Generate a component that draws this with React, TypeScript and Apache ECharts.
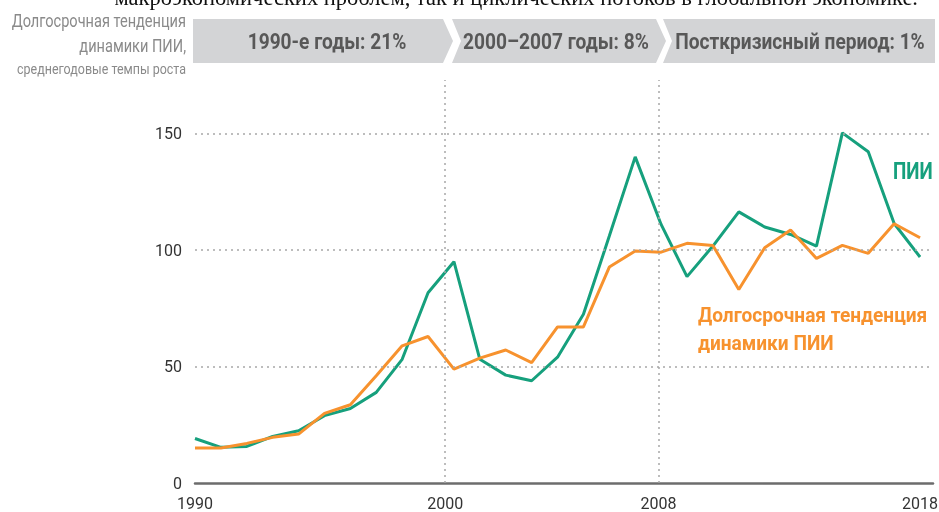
import React, { useEffect, useRef } from "react";
import * as echarts from "echarts";

const years = [
  1990, 1991, 1992, 1993, 1994, 1995, 1996, 1997, 1998, 1999,
  2000, 2001, 2002, 2003, 2004, 2005, 2006, 2007, 2008, 2009,
  2010, 2011, 2012, 2013, 2014, 2015, 2016, 2017, 2018,
];
const fdiValues = [
  19.1, 15.3, 15.7, 20.0, 22.4, 28.9, 32.0, 38.9, 53.1, 81.7,
  95.0, 53.1, 46.3, 43.9, 54.0, 72.4, 106.0, 140.0, 111.0, 88.6,
  101.7, 116.4, 109.9, 106.7, 101.7, 150.3, 142.2, 111.4, 97.0,
];
const trendValues = [
  15.0, 15.0, 17.0, 19.6, 21.0, 29.9, 33.6, 46.0, 58.9, 62.9,
  48.9, 53.6, 57.1, 51.7, 67.0, 67.0, 92.7, 99.6, 99.1, 102.9,
  102.0, 83.1, 101.0, 108.6, 96.4, 102.0, 98.6, 111.3, 105.3,
];
const periodLabels = ["1990-е годы: 21%", "2000–2007 годы: 8%", "Посткризисный период: 1%"];
const periodDividers = [1999.66, 2007.9];
const xTickPositions = [1990, 1999.66, 2007.9, 2018];
const xTickLabels = ["1990", "2000", "2008", "2018"];
const yTicks = [0, 50, 100, 150];
const gridLevels = [50, 100, 150];
const titleLines = ["Долгосрочная тенденция", "динамики ПИИ,", "среднегодовые темпы роста"];
const fdiName = "ПИИ";
const trendNameLines = ["Долгосрочная тенденция", "динамики ПИИ"];
const captionText = "макроэкономических проблем, так и циклических потоков в глобальной экономике.";

const GREEN = "#16a07d";
const ORANGE = "#f7922e";
const BAR = "#d3d4d6";
const FONT = "Roboto, 'Noto Sans', sans-serif";

export default function App() {
  const ref = useRef<HTMLDivElement>(null);
  useEffect(() => {
    if (!ref.current) return;
    const chart = echarts.init(ref.current, null, { renderer: "svg" });
    const headerText = (text: string, x: number) => ({
      type: "text",
      x,
      y: 42,
      scaleX: 0.87,
      z: 10,
      style: {
        text,
        fill: "#585858",
        font: `bold 22px ${FONT}`,
        align: "center",
        verticalAlign: "middle",
      },
    });
    const option: any = {
      animation: false,
      grid: { left: 195, right: 6, top: 80, bottom: 29, containLabel: false, outerBoundsMode: "none" },
      xAxis: {
        type: "value",
        min: 1990,
        max: 2018.5,
        axisLine: { show: true, lineStyle: { color: "#6c6c6c", width: 2.5 } },
        axisTick: { show: false },
        splitLine: { show: false },
        axisLabel: {
          customValues: xTickPositions,
          formatter: (v: number) => {
            let best = 0;
            xTickPositions.forEach((p, i) => {
              if (Math.abs(p - v) < Math.abs(xTickPositions[best] - v)) best = i;
            });
            return xTickLabels[best];
          },
          color: "#333",
          fontSize: 16,
          fontFamily: FONT,
          margin: 12,
        },
      },
      yAxis: {
        type: "value",
        min: 0,
        max: 173,
        interval: 50,
        axisLine: { show: false },
        axisTick: { show: false },
        splitLine: { show: false },
        axisLabel: { customValues: yTicks, color: "#333", fontSize: 16, fontFamily: FONT, margin: 13 },
      },
      series: [
        {
          type: "line",
          data: [],
          z: 1,
          silent: true,
          markLine: {
            silent: true,
            symbol: ["none", "none"],
            label: { show: false },
            lineStyle: { type: [2, 4], color: "#a8a8a8", width: 1.5 },
            data: [
              ...gridLevels.map((v) => ({ yAxis: v })),
              ...periodDividers.map((v) => ({ xAxis: v })),
            ],
          },
        },
        {
          type: "line",
          name: fdiName,
          data: years.map((y, i) => [y, fdiValues[i]]),
          symbol: "none",
          z: 2,
          lineStyle: { color: GREEN, width: 3 },
        },
        {
          type: "line",
          name: trendNameLines.join(" "),
          data: years.map((y, i) => [y, trendValues[i]]),
          symbol: "none",
          z: 3,
          lineStyle: { color: ORANGE, width: 3 },
        },
      ],
      graphic: [
        {
          type: "text",
          x: 918,
          y: 9,
          style: {
            text: captionText,
            fill: "#111",
            font: "22.5px 'Liberation Serif', serif",
            align: "right",
            verticalAlign: "bottom",
          },
        },
        { type: "polygon", shape: { points: [[193, 19], [443, 19], [453, 41], [443, 63], [193, 63]] }, style: { fill: BAR } },
        { type: "polygon", shape: { points: [[452, 19], [656, 19], [666, 41], [656, 63], [452, 63], [461, 41]] }, style: { fill: BAR } },
        { type: "polygon", shape: { points: [[663, 19], [935, 19], [935, 63], [663, 63], [672, 41]] }, style: { fill: BAR } },
        headerText(periodLabels[0], 327),
        headerText(periodLabels[1], 556),
        headerText(periodLabels[2], 800),
        {
          type: "text", x: 186, y: 21, scaleX: 0.81,
          style: { text: titleLines[0], fill: "#8a8a8a", font: `18px ${FONT}`, align: "right", verticalAlign: "middle" },
        },
        {
          type: "text", x: 186, y: 46, scaleX: 0.81,
          style: { text: titleLines[1], fill: "#8a8a8a", font: `18px ${FONT}`, align: "right", verticalAlign: "middle" },
        },
        {
          type: "text", x: 186, y: 69, scaleX: 0.89,
          style: { text: titleLines[2], fill: "#8a8a8a", font: `14px ${FONT}`, align: "right", verticalAlign: "middle" },
        },
        {
          type: "text", x: 893, y: 171, scaleX: 0.82,
          style: { text: fdiName, fill: GREEN, font: `bold 23px ${FONT}`, align: "left", verticalAlign: "middle" },
        },
        {
          type: "text", x: 698, y: 315, scaleX: 0.91,
          style: { text: trendNameLines[0], fill: ORANGE, font: `bold 21px ${FONT}`, align: "left", verticalAlign: "middle" },
        },
        {
          type: "text", x: 698, y: 343, scaleX: 0.91,
          style: { text: trendNameLines[1], fill: ORANGE, font: `bold 21px ${FONT}`, align: "left", verticalAlign: "middle" },
        },
      ],
    };
    chart.setOption(option);
    return () => chart.dispose();
  }, []);
  return <div ref={ref} style={{ position: "fixed", left: 0, top: 0, width: 939, height: 512 }} />;
}
